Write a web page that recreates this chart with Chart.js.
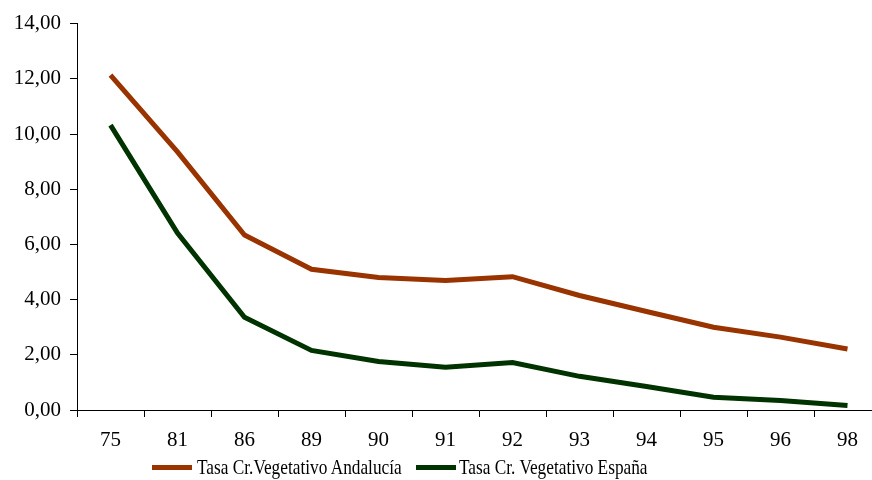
<!DOCTYPE html>
<html>
<head>
<meta charset="utf-8">
<script src="https://cdn.jsdelivr.net/npm/chart.js@4/dist/chart.umd.min.js"></script>
<style>
  html, body { margin: 0; padding: 0; background: #fff; overflow: hidden; }
  #wrap { position: relative; width: 884px; height: 480px; }
  #chart { position: absolute; left: 0; top: 2px; }
  #legend { position: absolute; left: 0; top: 0; font-family: "Liberation Serif", "Times New Roman", serif; color: #000; }
  #legend .swatch { position: absolute; width: 40px; height: 5px; top: 465px; }
  #legend .text { position: absolute; top: 459.2px; font-size: 17.3px; line-height: 20px; white-space: nowrap; transform: scaleY(1.25); transform-origin: 0 15.8px; }
</style>
</head>
<body>
<div id="wrap">
  <canvas id="chart" width="884" height="480"></canvas>
  <div id="legend"></div>
</div>
<script>
// años (categorías del eje x)
const years = ['75', '81', '86', '89', '90', '91', '92', '93', '94', '95', '96', '98']

// tasa de crecimiento vegetativo
const andalucia = [12.13, 9.35, 6.34, 5.10, 4.80, 4.69, 4.83, 4.15, 3.57, 3.00, 2.64, 2.21]
const espana = [10.32, 6.41, 3.36, 2.16, 1.76, 1.55, 1.72, 1.22, 0.85, 0.46, 0.34, 0.16]

const labelAndalucia = 'Tasa Cr.Vegetativo Andalucía'
const labelEspana = 'Tasa Cr. Vegetativo España'

const colorAndalucia = '#993300'
const colorEspana = '#003300'

const FONT = '"Liberation Serif", "Times New Roman", serif'

const fmt = (v) => v.toFixed(2).replace('.', ',')

const ctx = document.getElementById('chart')

new Chart(ctx, {
  type: 'line',
  data: {
    labels: years,
    datasets: [{
      label: labelAndalucia,
      data: andalucia,
      borderColor: colorAndalucia,
      borderWidth: 5,
      pointRadius: 0,
      fill: false,
      tension: 0
    }, {
      label: labelEspana,
      data: espana,
      borderColor: colorEspana,
      borderWidth: 5,
      pointRadius: 0,
      fill: false,
      tension: 0
    }]
  },
  options: {
    responsive: false,
    animation: false,
    layout: { padding: { top: 18, right: 3, left: 0, bottom: 0 } },
    plugins: {
      legend: { display: false },
      tooltip: { enabled: false }
    },
    scales: {
      x: {
        offset: true,
        grid: {
          offset: true,
          drawOnChartArea: false,
          drawTicks: true,
          tickLength: 7,
          color: '#000',
          lineWidth: 1
        },
        border: { color: '#000', width: 1 },
        ticks: {
          color: '#000',
          padding: 11,
          maxRotation: 0,
          font: { family: FONT, size: 21 }
        },
        afterFit: (scale) => { scale.height = 72 }
      },
      y: {
        min: 0,
        max: 14,
        ticks: {
          stepSize: 2,
          color: '#000',
          padding: 9,
          font: { family: FONT, size: 21 },
          callback: (v) => fmt(v)
        },
        grid: {
          drawOnChartArea: false,
          drawTicks: true,
          tickLength: 7,
          color: '#000',
          lineWidth: 1
        },
        border: { color: '#000', width: 1 },
        afterFit: (scale) => { scale.width = 77 }
      }
    }
  }
})

// leyenda inferior: [texto, color, x de la muestra, x del texto]
const legendItems = [
  [labelAndalucia, colorAndalucia, 152, 197],
  [labelEspana, colorEspana, 416, 459]
]
const legend = document.getElementById('legend')
legendItems.forEach(([text, color, xs, xt]) => {
  const sw = document.createElement('div')
  sw.className = 'swatch'
  sw.style.left = xs + 'px'
  sw.style.background = color
  legend.appendChild(sw)
  const t = document.createElement('div')
  t.className = 'text'
  t.style.left = xt + 'px'
  t.textContent = text
  legend.appendChild(t)
})
</script>
</body>
</html>
